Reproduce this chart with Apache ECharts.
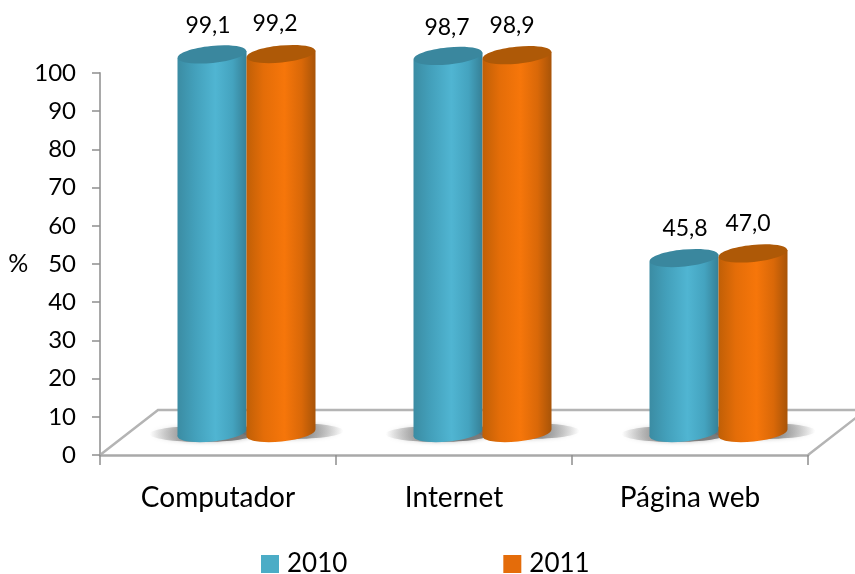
<!DOCTYPE html>
<html><head><meta charset="utf-8">
<style>html,body{margin:0;padding:0;background:#fff}#c{width:855px;height:574px}</style>
<script src="https://cdn.jsdelivr.net/npm/echarts@6/dist/echarts.min.js"></script>
</head><body><div id="c"></div>
<script>
const categories = ['Computador','Internet','Página web'];
const yearNames = ['2010','2011'];
const values2010 = [99.1, 98.7, 45.8];
const values2011 = [99.2, 98.9, 47.0];
const labels2010 = ['99,1','98,7','45,8'];
const labels2011 = ['99,2','98,9','47,0'];

const FONT = 'Lato, "Open Sans", sans-serif';
const DEPTH_X = 58, DEPTH_Y = 45, BASE_UP = 22, HALF_W = 34.5, RY = 8.5, TILT = 0.1;
const grad = (a,b,c,d,e) => ({type:'linear',x:0,y:0,x2:1,y2:0,colorStops:[
  {offset:0,color:a},{offset:0.25,color:b},{offset:0.55,color:c},{offset:0.8,color:d},{offset:1,color:e}]});
const BLUE = grad('#3b8ca3','#43a0bb','#50b5d2','#44a3bf','#368096');
const ORANGE = grad('#c05f06','#e46d08','#f6760a','#d96808','#a85408');
const shadowFill = (left) => ({type:'linear',x:0,y:0,x2:1,y2:0,colorStops: left ?
  [{offset:0,color:'rgba(110,110,110,0)'},{offset:0.45,color:'rgba(110,110,110,0.85)'},{offset:1,color:'rgba(110,110,110,0.85)'}] :
  [{offset:0,color:'rgba(110,110,110,0.85)'},{offset:0.55,color:'rgba(110,110,110,0.85)'},{offset:1,color:'rgba(110,110,110,0)'}]});

function cylinderSeries(name, vals, labels, dx, isLeft, fill, top, legendColor, nudges) {
  const side = isLeft ? -1 : 1;
  return {
    type:'custom', name, z:3,
    itemStyle:{color:legendColor},
    data: vals.map((v,i)=>[i,v]),
    encode:{x:0,y:1},
    renderItem(params, api){
      const i = api.value(0), v = api.value(1);
      const topPt = api.coord([i,v]), base = api.coord([i,0]);
      const cx = topPt[0] + dx;
      const ty = topPt[1] - BASE_UP, by = base[1] - BASE_UP;
      const dy = HALF_W * TILT;
      const l = cx - HALF_W, r = cx + HALF_W;
      const n = nudges[i];
      const children = [
        {type:'ellipse', shape:{cx:cx+side*10, cy:by+(isLeft?1:-2), rx:HALF_W+18, ry:8},
         style:{fill:shadowFill(isLeft), shadowBlur:4, shadowColor:'rgba(110,110,110,0.5)'}, z2:1},
        {type:'ellipse', shape:{cx, cy:by, rx:HALF_W, ry:RY}, rotation:TILT, originX:cx, originY:by,
         style:{fill}, z2:2},
        {type:'polygon', shape:{points:[[l,ty+dy],[r,ty-dy],[r,by-dy],[l,by+dy]]}, style:{fill}, z2:2},
        {type:'ellipse', shape:{cx, cy:ty, rx:HALF_W, ry:RY}, rotation:TILT, originX:cx, originY:ty,
         style:{fill:top}, z2:3},
        {type:'text', z2:4, style:{text:labels[i], x:cx + n[0], y:ty - 29 + n[1], textAlign:'center',
          textVerticalAlign:'middle', fill:'#000', font:'23px '+FONT}}
      ];
      return {type:'group', children};
    }
  };
}

const floorSeries = {
  type:'custom', silent:true, z:1, data:[[0,0]], encode:{x:0,y:1}, tooltip:{show:false},
  renderItem(params, api){
    const c0 = api.coord([0,0]), w = api.size([1,0])[0];
    const l = c0[0]-w/2, r = l + w*categories.length, y = c0[1];
    return {type:'polyline',
      shape:{points:[[l,y],[l+DEPTH_X,y-DEPTH_Y],[r+DEPTH_X,y-DEPTH_Y],[r,y]]},
      style:{fill:'#fff', stroke:'#b4b4b4', lineWidth:2.5}};
  }
};

const chart = echarts.init(document.getElementById('c'), null, {renderer:'canvas'});
chart.setOption({
  animation:false, backgroundColor:'#fff',
  textStyle:{fontFamily:FONT},
  grid:{left:100, right:47, top:73, bottom:119, containLabel:false},
  legend:{
    data:yearNames, left:256, top:546, itemWidth:18, itemHeight:18, itemGap:156, icon:'rect',
    textStyle:{fontSize:26, color:'#000', fontFamily:FONT, padding:[0,0,0,3]}
  },
  xAxis:{type:'category', data:categories,
    axisLine:{lineStyle:{color:'#a9a9a9', width:2.5}},
    axisTick:{show:true, length:10, alignWithLabel:false, lineStyle:{color:'#8f8f8f', width:1.5}},
    axisLabel:{fontSize:28, color:'#000', margin:29, fontFamily:FONT}, z:5},
  yAxis:{type:'value', min:0, max:100, interval:10, name:'%',
    nameLocation:'middle', nameRotate:0, nameGap:67,
    nameTextStyle:{fontSize:25, color:'#000', fontFamily:FONT, padding:[8,0,0,0]},
    splitLine:{show:false},
    axisLine:{show:true, lineStyle:{color:'#a9a9a9', width:2}},
    axisTick:{show:true, length:8, lineStyle:{color:'#8f8f8f', width:1.5}},
    axisLabel:{fontSize:24, color:'#000', margin:24, fontFamily:FONT, padding:[8,0,0,0]}, z:5},
  series:[
    floorSeries,
    cylinderSeries(yearNames[0], values2010, labels2010, -6, true, BLUE, '#3a879e', '#4bacc6', [[-4,0],[-1,1],[1,0]]),
    cylinderSeries(yearNames[1], values2011, labels2011, 63, false, ORANGE, '#ae5907', '#e46c0a', [[-6,-1],[-5,-1],[-5,-1]])
  ]
});
</script></body></html>
